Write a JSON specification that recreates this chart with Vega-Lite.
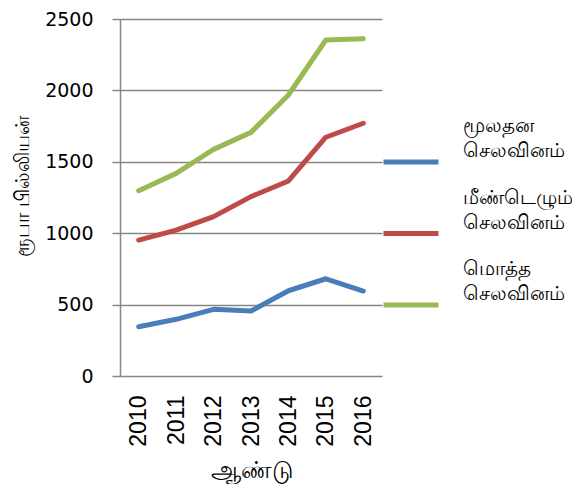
{
  "$schema": "https://vega.github.io/schema/vega-lite/v6.json",
  "autosize": "none",
  "width": 262,
  "height": 357,
  "padding": {"left": 120, "top": 19, "right": 190, "bottom": 108},
  "background": "white",
  "data": {
    "values": [
      {"year": "2010", "series": "மூலதன செலவினம்", "value": 345},
      {"year": "2011", "series": "மூலதன செலவினம்", "value": 397},
      {"year": "2012", "series": "மூலதன செலவினம்", "value": 467},
      {"year": "2013", "series": "மூலதன செலவினம்", "value": 455},
      {"year": "2014", "series": "மூலதன செலவினம்", "value": 597},
      {"year": "2015", "series": "மூலதன செலவினம்", "value": 681},
      {"year": "2016", "series": "மூலதன செலவினம்", "value": 595},
      {"year": "2010", "series": "மீண்டெழும் செலவினம்", "value": 952},
      {"year": "2011", "series": "மீண்டெழும் செலவினம்", "value": 1022},
      {"year": "2012", "series": "மீண்டெழும் செலவினம்", "value": 1116},
      {"year": "2013", "series": "மீண்டெழும் செலவினம்", "value": 1256},
      {"year": "2014", "series": "மீண்டெழும் செலவினம்", "value": 1366},
      {"year": "2015", "series": "மீண்டெழும் செலவினம்", "value": 1672},
      {"year": "2016", "series": "மீண்டெழும் செலவினம்", "value": 1770},
      {"year": "2010", "series": "மொத்த செலவினம்", "value": 1298},
      {"year": "2011", "series": "மொத்த செலவினம்", "value": 1419},
      {"year": "2012", "series": "மொத்த செலவினம்", "value": 1587},
      {"year": "2013", "series": "மொத்த செலவினம்", "value": 1706},
      {"year": "2014", "series": "மொத்த செலவினம்", "value": 1968},
      {"year": "2015", "series": "மொத்த செலவினம்", "value": 2353},
      {"year": "2016", "series": "மொத்த செலவினம்", "value": 2362}
    ]
  },
  "mark": {"type": "line", "strokeWidth": 5, "strokeCap": "round", "strokeJoin": "round"},
  "encoding": {
    "x": {
      "field": "year", "type": "ordinal",
      "scale": {"padding": 0.5},
      "axis": {
        "title": "ஆண்டு", "titleFontSize": 24, "titleFont": "Noto Sans", "titleFontWeight": "normal", "titleColor": "#000",
        "labelAngle": -90, "labelFontSize": 23, "labelFont": "Liberation Sans", "labelColor": "#000",
        "labelPadding": 19, "ticks": false, "tickSize": 0, "domain": false, "grid": false,
        "titlePadding": 12
      }
    },
    "y": {
      "field": "value", "type": "quantitative",
      "scale": {"domain": [0, 2500], "nice": false},
      "axis": {
        "title": "ரூபா பில்லியன்", "titleFontSize": 20, "titleFont": "Noto Sans", "titleFontWeight": "normal", "titleColor": "#000",
        "titleY": 167,
        "values": [0, 500, 1000, 1500, 2000, 2500], "format": "d",
        "labelFontSize": 19, "labelFont": "DejaVu Sans", "labelColor": "#000", "labelPadding": 19,
        "tickSize": 8, "tickColor": "#868686", "tickWidth": 1.5,
        "domainColor": "#868686", "domainWidth": 1.5,
        "grid": true, "gridColor": "#868686", "gridWidth": 1.5,
        "titlePadding": 12
      }
    },
    "color": {
      "field": "series", "type": "nominal",
      "scale": {
        "domain": ["மூலதன செலவினம்", "மீண்டெழும் செலவினம்", "மொத்த செலவினம்"],
        "range": ["#4a7ebb", "#be4b48", "#98b954"]
      },
      "legend": {
        "title": null, "orient": "none", "legendX": 261, "legendY": 113,
        "symbolType": "stroke", "symbolSize": 3025, "symbolStrokeWidth": 5,
        "labelExpr": "split(datum.label, ' ')",
        "labelFontSize": 20, "labelFont": "Noto Sans", "labelColor": "#000",
        "labelOffset": 22, "labelBaseline": "middle", "rowPadding": 15.5, "labelLimit": 200,
        "encode": {"labels": {"update": {"lineHeight": {"value": 25}, "dy": {"value": -36}}}}
      }
    }
  },
  "config": {"view": {"stroke": null}}
}
